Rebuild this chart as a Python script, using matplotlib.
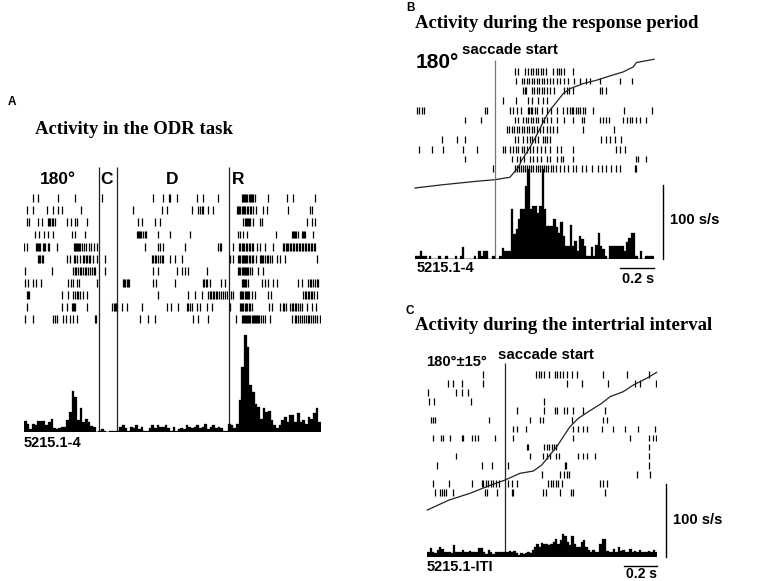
import matplotlib.pyplot as plt
import numpy as np

W, H = 779, 581

# ---------------- panel A: ODR task, 180 deg, time from cue onset (s)
odr_events = [0.0, 0.5, 3.5]
odr_event_labels = ['C', 'D', 'R']
odr_trials = [
    [-1.75, -1.62, -1.08, -0.63, 0.08, 1.46, 1.73, 1.88, 1.91, 2.09, 2.63, 2.79, 3.21,
     3.83, 3.86, 3.89, 3.92, 3.95, 3.98, 4.03, 4.06, 4.09, 4.12, 4.15, 4.18, 4.54, 5.04, 5.21, 5.79],
    [-1.93, -1.77, -1.39, -1.22, -1.08, -0.99, -0.46, 0.93, 1.69, 1.82, 2.49, 2.67, 2.71, 2.76,
     2.80, 2.94, 3.07, 3.70, 3.74, 3.77, 3.80, 3.83, 3.86, 3.89, 3.93, 3.97, 4.01, 4.05, 4.09,
     4.14, 4.23, 4.41, 4.50, 5.08, 5.66, 5.71],
    [-1.93, -1.86, -1.62, -1.53, -1.35, -1.32, -1.29, -1.26, -1.23, -1.17, -0.86, -0.74, -0.63,
     -0.57, -0.30, 1.06, 1.15, 1.51, 1.64, 3.88, 3.91, 3.94, 3.97, 4.00, 4.03, 4.06, 4.15, 4.32,
     4.37, 5.58, 5.71, 5.80],
    [-1.71, -1.59, -1.46, -1.37, -1.22, -0.72, -0.63, -0.37, 1.02, 1.05, 1.08, 1.11, 1.14, 1.20,
     1.23, 1.26, 1.60, 1.91, 2.45, 3.74, 3.80, 3.88, 3.97, 4.75, 5.17, 5.20, 5.23, 5.26, 5.30,
     5.34, 5.44, 5.47, 5.50, 5.53, 5.75],
    [-1.99, -1.93, -1.69, -1.66, -1.63, -1.60, -1.57, -1.49, -1.46, -1.43, -1.36, -1.33, -1.12,
     -0.67, -0.64, -0.61, -0.58, -0.55, -0.52, -0.49, -0.45, -0.40, -0.35, -0.27, -0.20, -0.12,
     -0.05, 1.24, 1.60, 1.64, 1.73, 2.31, 3.21, 3.25, 3.28, 3.61, 3.77, 3.80, 3.83, 3.86, 3.90,
     3.94, 3.98, 4.02, 4.06, 4.10, 4.14, 4.24, 4.32, 4.46, 4.68, 4.95, 4.98, 5.01, 5.04, 5.08,
     5.12, 5.16, 5.20, 5.24, 5.28, 5.32, 5.36, 5.40, 5.44, 5.48, 5.52, 5.56, 5.60, 5.64, 5.68,
     5.72, 5.76, 5.80],
    [-1.62, -1.59, -1.56, -1.53, -1.50, -0.86, -0.77, -0.66, -0.62, -0.59, -0.50, -0.43, -0.39,
     -0.35, -0.31, -0.27, -0.23, -0.16, -0.05, 0.17, 1.42, 1.46, 1.50, 1.55, 1.60, 1.64, 1.69,
     1.73, 1.91, 2.05, 2.23, 3.52, 3.60, 3.74, 3.77, 3.80, 3.83, 3.86, 3.89, 3.92, 3.95, 3.98,
     4.02, 4.06, 4.10, 4.14, 4.23, 4.32, 4.35, 4.38, 4.41, 4.47, 4.51, 4.55, 4.60, 4.65, 4.77,
     4.86, 4.99, 5.84],
    [-1.97, -1.26, -0.68, -0.64, -0.60, -0.55, -0.51, -0.47, -0.42, -0.37, -0.33, -0.28, -0.23,
     -0.18, -0.13, -0.10, 0.17, 1.46, 1.60, 2.09, 2.23, 2.31, 2.40, 2.90, 3.74, 3.77, 3.80, 3.83,
     3.86, 3.89, 3.92, 3.95, 3.98, 4.01, 4.05, 4.10, 4.28, 4.41],
    [-1.97, -1.89, -1.77, -1.69, -1.55, -0.81, -0.75, -0.68, -0.59, -0.52, -0.05, 0.66, 0.69,
     0.72, 0.75, 0.78, 0.81, 1.46, 1.55, 2.06, 2.80, 2.83, 2.87, 2.91, 2.98, 3.29, 3.40, 3.83,
     3.86, 3.89, 3.92, 3.95, 4.01, 4.37, 4.46, 4.55, 4.68, 4.79, 5.35, 5.44, 5.62, 5.66, 5.70,
     5.74, 5.79, 5.84, 5.88],
    [-1.93, -1.90, -1.86, -0.99, -0.81, -0.68, -0.62, -0.58, -0.55, -0.50, -0.41, -0.30, 1.60,
     2.40, 2.58, 2.76, 2.94, 2.98, 3.02, 3.06, 3.10, 3.14, 3.18, 3.23, 3.28, 3.33, 3.38, 3.43,
     3.54, 3.61, 3.79, 3.82, 3.85, 3.88, 3.91, 3.94, 3.97, 4.00, 4.04, 4.10, 4.19, 4.55, 4.61,
     5.49, 5.53, 5.57, 5.61, 5.65, 5.69, 5.73, 5.78, 5.84],
    [-1.93, -0.99, -0.86, -0.72, -0.69, -0.66, -0.63, -0.32, 0.35, 0.40, 0.43, 0.46, 0.50, 0.62,
     0.75, 1.15, 1.82, 1.93, 2.14, 2.36, 2.40, 2.44, 2.49, 2.63, 2.71, 2.90, 3.05, 3.52, 3.79,
     3.82, 3.85, 3.88, 3.91, 3.94, 3.98, 4.02, 4.06, 4.10, 4.57, 4.66, 4.86, 4.93, 4.97, 5.02,
     5.13, 5.17, 5.21, 5.25, 5.30, 5.35, 5.40, 5.44, 5.58, 5.71, 5.83],
    [-1.97, -1.75, -1.23, -1.17, -1.11, -0.95, -0.88, -0.77, -0.70, -0.59, -0.10, -0.07, 1.11,
     1.33, 1.51, 2.54, 2.67, 2.94, 3.68, 3.83, 3.86, 3.89, 3.92, 3.95, 3.98, 4.01, 4.04, 4.07,
     4.10, 4.13, 4.16, 4.19, 4.22, 4.25, 4.28, 4.31, 4.34, 4.40, 4.46, 4.59, 5.17, 5.26, 5.30,
     5.35, 5.40, 5.45, 5.50, 5.55, 5.60, 5.65, 5.70, 5.75, 5.80, 5.86, 5.93],
]
# firing rate (s/s), bins from -2.0 s to 5.96 s
odr_psth = [15, 11, 4, 11, 9, 15, 15, 15, 9, 14, 17, 5, 4, 5, 7, 7, 16, 27, 55, 47, 16, 32, 14,
            18, 14, 8, 7, 0, 1, 4, 1, 0, 1, 2, 2, 1, 7, 10, 5, 2, 7, 5, 9, 4, 7, 1, 2, 5, 10, 5,
            9, 7, 7, 9, 5, 1, 7, 1, 4, 5, 4, 9, 7, 5, 7, 9, 5, 7, 11, 4, 7, 9, 5, 7, 5, 2, 2, 11,
            9, 5, 11, 43, 88, 131, 115, 63, 54, 38, 34, 18, 32, 27, 29, 16, 9, 5, 9, 16, 20, 14,
            23, 23, 14, 25, 14, 16, 11, 20, 18, 26, 32, 14]

# ---------------- panel B: response period, aligned on saccade start (s)
resp_trials = [
    [0.115, 0.134, 0.174, 0.193, 0.207, 0.223, 0.238, 0.252, 0.268, 0.281, 0.297, 0.340, 0.360,
     0.375, 0.389, 0.403, 0.458],
    [0.121, 0.154, 0.168, 0.183, 0.197, 0.213, 0.226, 0.242, 0.258, 0.272, 0.287, 0.301, 0.321,
     0.340, 0.360, 0.379, 0.403, 0.428, 0.462, 0.497, 0.532, 0.556, 0.615, 0.732, 0.805],
    [0.164, 0.174, 0.180, 0.213, 0.226, 0.242, 0.258, 0.272, 0.285, 0.301, 0.321, 0.344, 0.403,
     0.419, 0.434, 0.458, 0.615, 0.630, 0.650],
    [0.042, 0.121, 0.193, 0.213, 0.252, 0.281, 0.301],
    [-0.464, -0.450, -0.434, -0.421, -0.062, -0.052, 0.085, 0.105, 0.125, 0.148, 0.193, 0.199,
     0.207, 0.213, 0.232, 0.246, 0.272, 0.301, 0.330, 0.360, 0.399, 0.419, 0.438, 0.448, 0.458,
     0.477, 0.487, 0.497, 0.517, 0.526, 0.575, 0.755, 0.920],
    [-0.179, -0.085, 0.115, 0.134, 0.164, 0.180, 0.193, 0.207, 0.223, 0.238, 0.252, 0.272, 0.287,
     0.305, 0.325, 0.360, 0.403, 0.458, 0.507, 0.520, 0.615, 0.634, 0.650, 0.670, 0.752, 0.775,
     0.791, 0.807, 0.826, 0.850, 0.889],
    [0.066, 0.081, 0.095, 0.109, 0.125, 0.140, 0.154, 0.168, 0.183, 0.199, 0.213, 0.226, 0.242,
     0.262, 0.281, 0.301, 0.321, 0.340, 0.360, 0.517, 0.697],
    [-0.317, -0.228, -0.179, 0.115, 0.134, 0.164, 0.183, 0.203, 0.213, 0.232, 0.252, 0.281,
     0.291, 0.301, 0.321, 0.624, 0.654, 0.673, 0.703, 0.742],
    [-0.448, -0.375, -0.307, -0.189, -0.111, 0.042, 0.056, 0.085, 0.105, 0.121, 0.134, 0.154,
     0.168, 0.183, 0.203, 0.223, 0.242, 0.266, 0.291, 0.321, 0.360, 0.387, 0.458, 0.713, 0.736,
     0.762],
    [-0.179, 0.095, 0.125, 0.144, 0.168, 0.203, 0.223, 0.242, 0.266, 0.301, 0.321, 0.360, 0.389,
     0.399, 0.458, 0.830, 0.840, 0.889],
    [-0.017, 0.115, 0.128, 0.140, 0.152, 0.164, 0.176, 0.188, 0.200, 0.212, 0.224, 0.236, 0.248,
     0.260, 0.272, 0.284, 0.296, 0.310, 0.325, 0.340, 0.355, 0.379, 0.403, 0.428, 0.454, 0.477,
     0.507, 0.536, 0.566, 0.605, 0.630, 0.654, 0.683, 0.713, 0.736, 0.820, 0.830],
]
resp_eye_t = [-0.474, -0.307, -0.111, -0.003, 0.085, 0.115, 0.134, 0.154, 0.193, 0.232, 0.262,
              0.291, 0.321, 0.360, 0.399, 0.438, 0.516, 0.595, 0.674, 0.752, 0.811, 0.831, 0.934]
resp_eye_pos = [11.98, 11.64, 11.29, 11.13, 10.88, 10.27, 9.93, 9.14, 8.11, 6.92, 5.89, 4.87,
                4.00, 3.15, 2.30, 1.79, 1.27, 0.92, 0.48, 0.07, -0.44, -0.90, -1.23]
resp_psth = [5, 5, 11, 5, 5, 0, 5, 0, 0, 0, 5, 0, 0, 5, 0, 0, 0, 5, 0, 5, 16, 0, 0, 0, 0, 5, 0,
             11, 5, 11, 11, 0, 0, 5, 0, 0, 5, 15, 11, 11, 11, 68, 34, 41, 54, 68, 68, 99, 122, 68,
             72, 72, 63, 72, 122, 68, 45, 45, 45, 54, 43, 36, 50, 32, 18, 18, 47, 18, 25, 11, 32,
             27, 18, 5, 5, 16, 5, 20, 36, 18, 14, 5, 0, 18, 18, 18, 18, 18, 18, 11, 23, 29, 36,
             36, 5, 0, 11, 0, 5, 5, 5, 5]

# ---------------- panel C: intertrial interval, aligned on saccade start (s)
iti_trials = [
    [-0.130, 0.186, 0.202, 0.218, 0.234, 0.265, 0.299, 0.313, 0.329, 0.345, 0.369, 0.399, 0.429,
     0.585, 0.729, 0.864],
    [-0.339, -0.309, -0.259, -0.130, 0.369, 0.459, 0.619, 0.778, 0.808, 0.904],
    [-0.459, -0.293, -0.259, -0.220],
    [-0.453, -0.425, -0.206, 0.234],
    [0.070, 0.234, 0.299, 0.313, 0.353, 0.369, 0.409, 0.469, 0.599],
    [-0.445, -0.433, -0.419, -0.094, 0.150, 0.210, 0.226, 0.399, 0.585, 0.609],
    [0.050, 0.074, 0.126, 0.409, 0.439, 0.469, 0.493, 0.579, 0.649, 0.719, 0.798, 0.898],
    [-0.429, -0.385, -0.369, -0.329, -0.259, -0.249, -0.200, -0.180, -0.160, -0.060, 0.050, 0.409,
     0.749, 0.864, 0.888, 0.904],
    [0.130, 0.140, 0.234, 0.250, 0.265, 0.279, 0.293, 0.305, 0.864],
    [-0.293, 0.150, 0.230, 0.250, 0.269, 0.305, 0.325, 0.439, 0.469, 0.489, 0.539, 0.864],
    [-0.409, -0.140, -0.080, 0.020, 0.359, 0.365, 0.864],
    [0.220, 0.329, 0.353, 0.369, 0.385, 0.788, 0.868],
    [-0.429, -0.333, -0.200, -0.140, -0.130, -0.114, -0.100, -0.086, -0.070, -0.054, -0.034,
     0.020, 0.040, 0.070, 0.259, 0.273, 0.289, 0.305, 0.319, 0.339, 0.569, 0.589, 0.609],
    [-0.419, -0.389, -0.379, -0.365, -0.353, -0.309, -0.120, -0.110, -0.050, 0.040, 0.050, 0.230,
     0.246, 0.329, 0.393, 0.405, 0.599],
]
iti_eye_t = [-0.465, -0.334, -0.210, -0.110, 0.000, 0.090, 0.169, 0.220, 0.269, 0.310, 0.349,
             0.389, 0.439, 0.499, 0.579, 0.629, 0.708, 0.768, 0.848, 0.908]
iti_eye_pos = [14.91, 13.81, 13.08, 12.35, 11.62, 10.88, 10.63, 9.97, 8.87, 7.96, 6.86, 5.76,
               4.84, 4.11, 3.19, 2.46, 1.91, 1.18, 0.44, -0.22]
iti_psth = [6, 12, 6, 5, 9, 13, 10, 7, 6, 6, 5, 16, 7, 6, 6, 9, 6, 6, 8, 6, 7, 7, 12, 12, 6, 4,
            9, 6, 4, 6, 6, 7, 6, 7, 6, 8, 7, 8, 5, 2, 5, 4, 5, 6, 5, 9, 14, 18, 14, 19, 18, 18,
            16, 18, 21, 25, 18, 23, 32, 28, 21, 16, 29, 18, 14, 14, 21, 23, 13, 9, 7, 9, 7, 6,
            18, 24, 25, 8, 7, 7, 10, 7, 14, 8, 9, 7, 7, 10, 6, 8, 7, 9, 6, 7, 7, 8, 6, 9, 7]

plt.rcParams['font.family'] = ['Liberation Sans', 'DejaVu Sans']
TITLE_FONT = dict(family='Liberation Serif', fontweight='bold', fontsize=13.5)


def px_axes(fig, left, top, right, bottom):
    ax = fig.add_axes([left / W, 1 - bottom / H, (right - left) / W, (bottom - top) / H])
    ax.set_axis_off()
    ax.patch.set_alpha(0)
    return ax


def put_text(fig, x, y, s, **kw):
    kw.setdefault('va', 'center')
    fig.text(x / W, 1 - y / H, s, **kw)


def draw_raster(ax, trials, half):
    for row, spikes in enumerate(trials):
        ax.vlines(spikes, row - half, row + half, color='black', lw=0.9)


def draw_psth(ax, rates, t0, t1):
    edges = np.linspace(t0, t1, len(rates) + 1)
    ax.bar(edges[:-1], rates, width=np.diff(edges), align='edge',
           color='black', edgecolor='black', lw=0.2)
    ax.plot([t0, t1], [0, 0], color='black', lw=1.0)
    ax.set_xlim(t0, t1)


fig = plt.figure(figsize=(W / 100, H / 100), dpi=100, facecolor='white')

# ---- A
a_t0, a_t1 = -2.0, 5.96
ax_a = px_axes(fig, 24, 160, 321, 432)
draw_raster(ax_a, odr_trials, 0.33)
ax_a.set_xlim(a_t0, a_t1)
ax_a.set_ylim(19.36, -3.17)
ax_a.vlines(odr_events, -2.57, 19.36, color='#222222', lw=0.9)
ax_ap = px_axes(fig, 24, 330, 321, 432)
draw_psth(ax_ap, odr_psth, a_t0, a_t1)
ax_ap.set_ylim(0, 137.8)

put_text(fig, 8, 102, 'A', fontsize=8.5, fontweight='bold')
put_text(fig, 35, 130, 'Activity in the ODR task', **TITLE_FONT)
put_text(fig, 58, 180, '180°', fontsize=12.5, fontweight='bold', ha='center')
for x, lab in zip([106, 172.5, 238], odr_event_labels):
    put_text(fig, x, 180, lab, fontsize=12.5, fontweight='bold', ha='center')
put_text(fig, 24, 443, '5215.1-4', fontsize=10.5, fontweight='bold')

# ---- B
b_t0, b_t1 = -0.474, 0.934
ax_b = px_axes(fig, 415, 55, 654, 259.3)
draw_raster(ax_b, resp_trials, 0.34)
ax_b.plot(resp_eye_t, resp_eye_pos, color='#222222', lw=0.9, clip_on=False)
ax_b.set_xlim(b_t0, b_t1)
ax_b.set_ylim(19.30, -1.67)
ax_b.vlines([0], -1.16, 19.30, color='#777777', lw=0.9)
ax_bp = px_axes(fig, 415, 160, 654, 259.3)
draw_psth(ax_bp, resp_psth, b_t0, b_t1)
ax_bp.set_ylim(0, 134.2)
ax_bp.plot([0.987, 0.987], [0, 100], color='black', lw=1.0, clip_on=False)
ax_bp.plot([b_t1 - 0.2, b_t1], [-11.4, -11.4], color='black', lw=1.0, clip_on=False)

put_text(fig, 406, 8, 'B', fontsize=8.5, fontweight='bold')
put_text(fig, 415, 23, 'Activity during the response period', **TITLE_FONT)
put_text(fig, 416, 63, '180°', fontsize=15, fontweight='bold')
put_text(fig, 462, 50, 'saccade start', fontsize=10.8, fontweight='bold')
put_text(fig, 670, 220, '100 s/s', fontsize=10.6, fontweight='bold')
put_text(fig, 417, 268, '5215.1-4', fontsize=10.5, fontweight='bold')
put_text(fig, 654, 279, '0.2 s', fontsize=10.4, fontweight='bold', ha='right')

# ---- C
c_t0, c_t1 = -0.465, 0.912
ax_c = px_axes(fig, 427.3, 345, 657.3, 556.7)
draw_raster(ax_c, iti_trials, 0.36)
ax_c.plot(iti_eye_t, iti_eye_pos, color='#222222', lw=0.9, clip_on=False)
ax_c.set_xlim(c_t0, c_t1)
ax_c.set_ylim(20.04, -3.22)
ax_c.vlines([0], -1.2, 20.04, color='#222222', lw=0.9)
ax_cp = px_axes(fig, 427.3, 480, 657.3, 556.7)
draw_psth(ax_cp, iti_psth, c_t0, c_t1)
ax_cp.set_ylim(0, 106.1)
ax_cp.plot([0.962, 0.962], [0, 100], color='black', lw=1.0, clip_on=False)
ax_cp.plot([c_t1 - 0.2, c_t1], [-12.4, -12.4], color='black', lw=1.0, clip_on=False)

put_text(fig, 406, 311, 'C', fontsize=8.5, fontweight='bold')
put_text(fig, 415, 325, 'Activity during the intertrial interval', **TITLE_FONT)
put_text(fig, 426, 362, '180°±15°', fontsize=10.6, fontweight='bold')
put_text(fig, 498, 355, 'saccade start', fontsize=10.8, fontweight='bold')
put_text(fig, 673, 520, '100 s/s', fontsize=10.6, fontweight='bold')
put_text(fig, 427, 567, '5215.1-ITI', fontsize=10.5, fontweight='bold')
put_text(fig, 657, 574, '0.2 s', fontsize=10.0, fontweight='bold', ha='right')

fig.savefig('out.png', dpi=100, facecolor='white')
